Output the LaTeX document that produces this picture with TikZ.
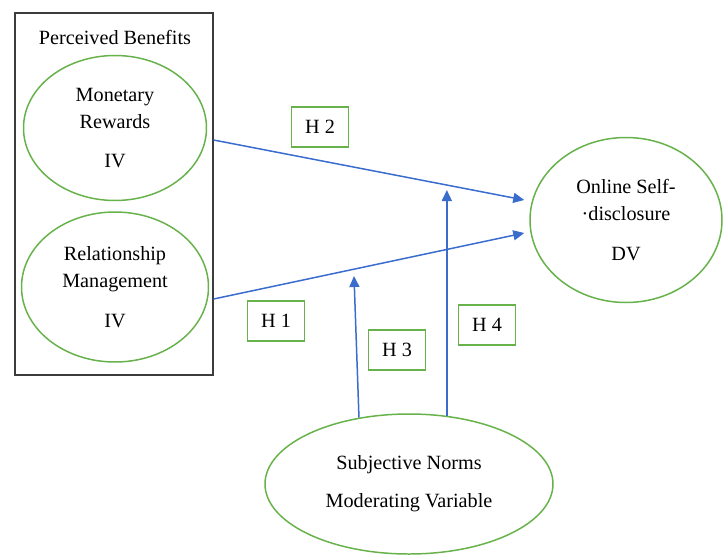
\documentclass[tikz,border=0pt]{standalone}
\usepackage{fontspec}
\setmainfont{Liberation Serif}
\usetikzlibrary{arrows.meta, positioning, shapes.geometric}
\definecolor{ovalgreen}{RGB}{104,178,76}
\definecolor{linkblue}{RGB}{58,108,206}
\definecolor{framegray}{RGB}{60,60,60}

\begin{document}
\begin{tikzpicture}[
    >=Triangle,
    txt/.style={font=\fontsize{11.5}{15.4}\selectfont, align=center},
    frame/.style={draw=framegray, line width=0.7pt, minimum width=3.96cm, minimum height=7.24cm},
    oval/.style={txt, ellipse, draw=ovalgreen, line width=0.85pt, inner sep=0pt},
    hbox/.style={txt, draw=ovalgreen, line width=0.85pt, minimum width=1.14cm, minimum height=0.8cm, inner sep=0pt},
    link/.style={draw=linkblue, line width=0.85pt, -{Triangle[length=0.22cm,width=0.2cm]}},
]
\useasboundingbox (0,0) rectangle (14.46,-11.08);
% ----- perceived benefits (IV)
\node[frame] (pb) at (2.28,-3.88) {};
\node[txt] (pbtitle) at (2.30,-0.74) {Perceived Benefits};
\node[oval, minimum width=3.66cm, minimum height=2.90cm] (mon) at (2.30,-2.56) {Monetary\\Rewards\\[0.22cm]IV};
\node[oval, minimum width=3.74cm, minimum height=3.0cm] (rel) at (2.30,-5.74) {Relationship\\Management\\[0.26cm]IV};
% ----- DV and moderator
\node[oval, minimum width=3.84cm, minimum height=3.3cm] (osd) at (12.52,-4.40) {Online Self-\\·disclosure\\[0.24cm]DV};
\node[oval, minimum width=5.76cm, minimum height=2.8cm] (sn) at (8.18,-9.68) {Subjective Norms\\[0.22cm]Moderating Variable};
% ----- hypotheses
\node[hbox] (h2) at (6.40,-2.54) {H 2};
\node[hbox] (h1) at (5.52,-6.42) {H 1};
\node[hbox] (h3) at (7.94,-7.00) {H 3};
\node[hbox] (h4) at (9.74,-6.50) {H 4};
% ----- paths
\coordinate (monout) at ([yshift=-0.24cm]mon.east);
\coordinate (relout) at ([yshift=-0.24cm]rel.east);
\coordinate (osdtop) at ([xshift=-0.1cm,yshift=0.40cm]osd.west);
\coordinate (osdlow) at ([xshift=-0.1cm,yshift=-0.26cm]osd.west);
\coordinate (h3end) at (7.08,-5.52);
\coordinate (h4end) at (8.94,-3.80);
\draw[link] (monout -| pb.east) -- (osdtop);
\draw[link] (relout -| pb.east) -- (osdlow);
\draw[link] (sn.127) -- (h3end);
\draw[link] (sn.61) -- (sn.61 |- h4end);
\end{tikzpicture}
\end{document}
